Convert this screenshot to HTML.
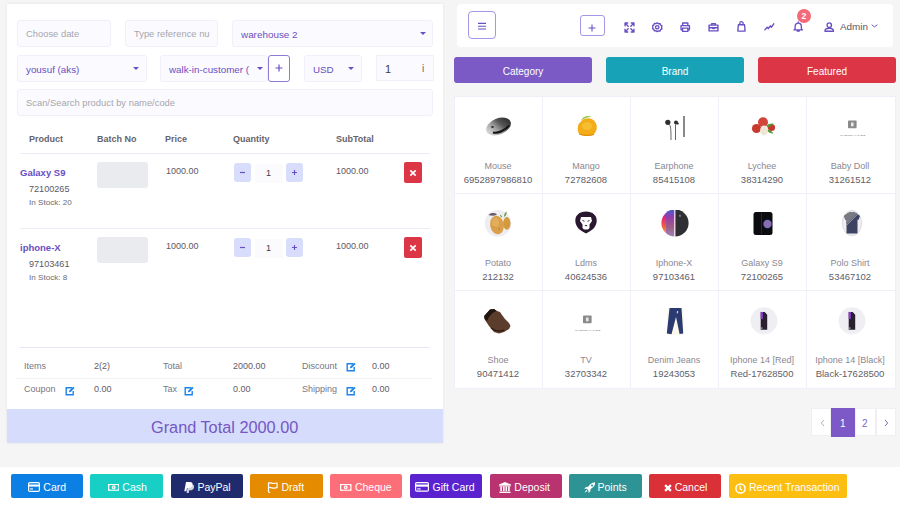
<!DOCTYPE html>
<html><head><meta charset="utf-8"><style>
*{box-sizing:border-box;margin:0;padding:0}
html,body{width:900px;height:506px;overflow:hidden;background:#f5f5f6;font-family:"Liberation Sans",sans-serif;color:#47404f}
.a{position:absolute;white-space:nowrap}
.t{position:absolute;white-space:nowrap;line-height:1}
.panel{position:absolute;left:7px;top:4px;width:436px;height:439px;background:#fff;box-shadow:0 0 3px rgba(0,0,0,.07)}
.inp{position:absolute;background:#fbfbff;border:1px solid #f0f0fa;border-radius:3px}
.ph{color:#a6a5ad}
.pv{color:#6a4ec2}
.caret{position:absolute;width:0;height:0;border-left:3px solid transparent;border-right:3px solid transparent;border-top:3.5px solid #6a4ec2}
.th{font-size:9px;font-weight:bold;color:#65636c}
.hl{position:absolute;height:1px;background:#ececf4}
.qb{position:absolute;width:17px;height:19px;background:#d7ddfb;border-radius:3px}
.del{position:absolute;width:18px;height:21px;background:#dc3545;border-radius:2px}
.bi{position:absolute;width:51px;height:26px;background:#e9ebef;border-radius:3px}
.tl{font-size:9px;color:#787681}
.gt{position:absolute;left:7px;top:409px;width:436px;height:34px;background:#d6dcfb}
.hdr{position:absolute;left:457px;top:4px;width:436px;height:43px;background:#fff;border-radius:4px}
.cb{position:absolute;top:57px;height:26px;width:138px;border-radius:3px}
.grid{position:absolute;left:454px;top:96px;width:442px;height:293px;background:#fff;border:1px solid #efeff8}
.vl{position:absolute;width:1px;background:#efeff8}
.btn{position:absolute;top:474px;height:24px;width:72px;border-radius:2px}
.bt{font-size:10.5px;color:#fff}
.cn{font-size:9px;color:#8a8893}
.cc{font-size:9.5px;color:#605e69}
.pg{position:absolute;top:408px;height:28px;background:#fff;border:1px solid #f0f0f4}
</style></head><body>
<div class="panel"></div>
<div class="inp" style="left:17px;top:20px;width:94px;height:27px"></div>
<div class="t ph" style="left:26px;top:29px;font-size:9.4px">Choose date</div>
<div class="inp" style="left:125px;top:20px;width:93px;height:27px"></div>
<div class="t ph" style="left:134px;top:29px;font-size:9.4px">Type reference nu</div>
<div class="inp" style="left:232px;top:20px;width:201px;height:27px"></div>
<div class="t pv" style="left:241px;top:30px;font-size:9.9px">warehouse 2</div>
<div class="caret" style="left:420px;top:32px"></div>
<div class="inp" style="left:17px;top:55px;width:130px;height:27px"></div>
<div class="t pv" style="left:26px;top:65px;font-size:9.8px">yousuf (aks)</div>
<div class="caret" style="left:133px;top:67px"></div>
<div class="inp" style="left:160px;top:55px;width:108px;height:27px;overflow:hidden"></div>
<div class="t pv" style="left:169px;top:65px;font-size:9.8px;width:84px;overflow:hidden">walk-in-customer (</div>
<div class="caret" style="left:257px;top:67px"></div>
<div class="a" style="left:268px;top:55px;width:22px;height:27px;border:1px solid #8f7ad6;border-radius:3px;background:#fff"></div>
<svg class="a" style="left:275px;top:64px" width="8" height="8"><path d="M4 .5v7M.5 4h7" stroke="#6a4fc4" stroke-width="1.2"/></svg>
<div class="inp" style="left:304px;top:55px;width:58px;height:27px"></div>
<div class="t pv" style="left:313px;top:65px;font-size:9.8px">USD</div>
<div class="caret" style="left:348px;top:67px"></div>
<div class="inp" style="left:376px;top:55px;width:58px;height:26px;border-radius:1px"></div>
<div class="t " style="left:385px;top:64px;font-size:11px;color:#3c3a44">1</div>
<div class="t " style="left:422px;top:64px;font-size:10px;color:#666">i</div>
<div class="inp" style="left:17px;top:89px;width:416px;height:27px"></div>
<div class="t ph" style="left:26px;top:98px;font-size:9.4px">Scan/Search product by name/code</div>
<div class="t th" style="left:29px;top:135px;">Product</div>
<div class="t th" style="left:97px;top:135px;">Batch No</div>
<div class="t th" style="left:165px;top:135px;">Price</div>
<div class="t th" style="left:233px;top:135px;">Quantity</div>
<div class="t th" style="left:336px;top:135px;">SubTotal</div>
<div class="hl" style="left:20px;top:153px;width:410px"></div>
<div class="t " style="left:20px;top:168px;font-size:9.5px;font-weight:bold;color:#6a4ec2">Galaxy S9</div>
<div class="t " style="left:29px;top:185px;font-size:9.1px;color:#5b5866">72100265</div>
<div class="t " style="left:29px;top:199px;font-size:8.1px;color:#6d6a74">In Stock: 20</div>
<div class="bi" style="left:97px;top:162px"></div>
<div class="t " style="left:166px;top:167px;font-size:9px;color:#5b5866">1000.00</div>
<div class="qb" style="left:234px;top:163px"></div>
<svg class="a" style="left:238px;top:168px" width="9" height="9"><path d="M2 4.5h5" stroke="#6a4fc4" stroke-width="1.2"/></svg>
<div class="a" style="left:255px;top:164px;width:28px;height:19px;background:#fbfbfe;border-radius:2px"></div>
<div class="t " style="left:266px;top:169px;font-size:9px;color:#3c3a44">1</div>
<div class="qb" style="left:286px;top:163px"></div>
<svg class="a" style="left:290px;top:168px" width="9" height="9"><path d="M4.5 2v5M2 4.5h5" stroke="#6a4fc4" stroke-width="1.1"/></svg>
<div class="t " style="left:336px;top:167px;font-size:9px;color:#5b5866">1000.00</div>
<div class="del" style="left:404px;top:162px"></div>
<svg class="a" style="left:409px;top:169px" width="8" height="8"><path d="M1.3 1.3l5.4 5.4M6.7 1.3l-5.4 5.4" stroke="#fff" stroke-width="1.7"/></svg>
<div class="hl" style="left:20px;top:228px;width:410px"></div>
<div class="t " style="left:20px;top:243px;font-size:9.5px;font-weight:bold;color:#6a4ec2">iphone-X</div>
<div class="t " style="left:29px;top:260px;font-size:9.1px;color:#5b5866">97103461</div>
<div class="t " style="left:29px;top:274px;font-size:8.1px;color:#6d6a74">In Stock: 8</div>
<div class="bi" style="left:97px;top:237px"></div>
<div class="t " style="left:166px;top:242px;font-size:9px;color:#5b5866">1000.00</div>
<div class="qb" style="left:234px;top:238px"></div>
<svg class="a" style="left:238px;top:243px" width="9" height="9"><path d="M2 4.5h5" stroke="#6a4fc4" stroke-width="1.2"/></svg>
<div class="a" style="left:255px;top:239px;width:28px;height:19px;background:#fbfbfe;border-radius:2px"></div>
<div class="t " style="left:266px;top:244px;font-size:9px;color:#3c3a44">1</div>
<div class="qb" style="left:286px;top:238px"></div>
<svg class="a" style="left:290px;top:243px" width="9" height="9"><path d="M4.5 2v5M2 4.5h5" stroke="#6a4fc4" stroke-width="1.1"/></svg>
<div class="t " style="left:336px;top:242px;font-size:9px;color:#5b5866">1000.00</div>
<div class="del" style="left:404px;top:237px"></div>
<svg class="a" style="left:409px;top:244px" width="8" height="8"><path d="M1.3 1.3l5.4 5.4M6.7 1.3l-5.4 5.4" stroke="#fff" stroke-width="1.7"/></svg>
<div class="hl" style="left:20px;top:347px;width:410px;background:#e6e6f4"></div>
<div class="hl" style="left:16px;top:378px;width:416px;background:#f3f3f7"></div>
<div class="t tl" style="left:24px;top:362px;">Items</div>
<div class="t tl" style="left:94px;top:362px;color:#5f5c68">2(2)</div>
<div class="t tl" style="left:163px;top:362px;">Total</div>
<div class="t tl" style="left:233px;top:362px;color:#5f5c68">2000.00</div>
<div class="t tl" style="left:302px;top:362px;">Discount</div>
<div class="t tl" style="left:372px;top:362px;color:#5f5c68">0.00</div>
<svg class="a" style="left:346px;top:362px" width="10" height="10" viewBox="0 0 10 10"><path d="M7.2 1.8H1.2v7h7V5" fill="none" stroke="#1c84e8" stroke-width="1.4"/><path d="M4 6.2l.3-1.6L8.3.7l1.3 1.3-4 4z" fill="#1c84e8"/></svg>
<div class="t tl" style="left:24px;top:385px;">Coupon</div>
<div class="t tl" style="left:94px;top:385px;color:#5f5c68">0.00</div>
<svg class="a" style="left:65px;top:386px" width="10" height="10" viewBox="0 0 10 10"><path d="M7.2 1.8H1.2v7h7V5" fill="none" stroke="#1c84e8" stroke-width="1.4"/><path d="M4 6.2l.3-1.6L8.3.7l1.3 1.3-4 4z" fill="#1c84e8"/></svg>
<div class="t tl" style="left:163px;top:385px;">Tax</div>
<div class="t tl" style="left:233px;top:385px;color:#5f5c68">0.00</div>
<svg class="a" style="left:184px;top:386px" width="10" height="10" viewBox="0 0 10 10"><path d="M7.2 1.8H1.2v7h7V5" fill="none" stroke="#1c84e8" stroke-width="1.4"/><path d="M4 6.2l.3-1.6L8.3.7l1.3 1.3-4 4z" fill="#1c84e8"/></svg>
<div class="t tl" style="left:302px;top:385px;">Shipping</div>
<div class="t tl" style="left:372px;top:385px;color:#5f5c68">0.00</div>
<svg class="a" style="left:346px;top:386px" width="10" height="10" viewBox="0 0 10 10"><path d="M7.2 1.8H1.2v7h7V5" fill="none" stroke="#1c84e8" stroke-width="1.4"/><path d="M4 6.2l.3-1.6L8.3.7l1.3 1.3-4 4z" fill="#1c84e8"/></svg>
<div class="gt"></div>
<div class="t " style="left:151px;top:419px;font-size:16.3px;color:#7556c4">Grand Total 2000.00</div>
<div class="hdr"></div>
<div class="a" style="left:468px;top:11px;width:28px;height:28px;border:1px solid #a597e6;border-radius:4px"></div>
<svg class="a" style="left:477px;top:22px" width="10" height="8"><path d="M1 1.4h8M1 4.2h8M1 7h8" stroke="#6a4fc4" stroke-width="1.1"/></svg>
<div class="a" style="left:580px;top:15px;width:25px;height:21px;border:1px solid #a597e6;border-radius:3px"></div>
<svg class="a" style="left:588px;top:24px" width="8" height="8"><path d="M4 .5v7M.5 4h7" stroke="#6a4fc4" stroke-width="1.1"/></svg>
<svg class="a" style="left:623.5px;top:21.7px" width="11" height="11" viewBox="0 0 10.5 10.5" fill="none" stroke="#6a4fc4" stroke-width="1.3" stroke-linecap="round" stroke-linejoin="round"><path d="M1 3.6V1h2.6M1 1l3 3M6.9 1h2.6v2.6M9.5 1L6.5 4M9.5 6.9v2.6H6.9M9.5 9.5L6.5 6.5M3.6 9.5H1V6.9M1 9.5l3-3"/></svg>
<svg class="a" style="left:652px;top:22px" width="11" height="11" viewBox="0 0 10.5 10.5" fill="none" stroke="#6a4fc4" stroke-width="1.3" stroke-linecap="round" stroke-linejoin="round"><circle cx="5" cy="5" r="1.6"/><path d="M5 .8l1.2.9 1.5-.2.5 1.4 1.3.8-.4 1.4.4 1.4-1.3.8-.5 1.4-1.5-.2L5 9.2l-1.2-.9-1.5.2-.5-1.4L.5 6.3.9 4.9.5 3.5l1.3-.8.5-1.4 1.5.2z"/></svg>
<svg class="a" style="left:680px;top:22px" width="11" height="11" viewBox="0 0 10.5 10.5" fill="none" stroke="#6a4fc4" stroke-width="1.3" stroke-linecap="round" stroke-linejoin="round"><path d="M2.5 3.5V1h5v2.5M2.5 7.5H1V3.5h8v4H7.5M2.5 5.8h5V9h-5z"/></svg>
<svg class="a" style="left:708px;top:21.5px" width="11" height="11" viewBox="0 0 10.5 10.5" fill="none" stroke="#6a4fc4" stroke-width="1.3" stroke-linecap="round" stroke-linejoin="round"><path d="M1 3h8.5v5.5H1zM3.5 3V1.5h3.5V3M1 5.5h8.5M4.5 5.5v.8h1.5v-.8"/></svg>
<svg class="a" style="left:736.6px;top:21px" width="11" height="11" viewBox="0 0 10.5 10.5" fill="none" stroke="#6a4fc4" stroke-width="1.3" stroke-linecap="round" stroke-linejoin="round"><path d="M1.3 3.6h5.9l.5 6H.8zM2.7 3.6V2.2a1.55 1.55 0 0 1 3.1 0v1.4"/></svg>
<svg class="a" style="left:764.2px;top:22px" width="11" height="11" viewBox="0 0 10.5 10.5" fill="none" stroke="#6a4fc4" stroke-width="1.3" stroke-linecap="round" stroke-linejoin="round"><path d="M.8 7.5l2.3-2.5 1 1.4 1.9-2.8 1 1.4 2.3-3.3"/></svg>
<svg class="a" style="left:793px;top:21px" width="11" height="11" viewBox="0 0 10.5 10.5" fill="none" stroke="#6a4fc4" stroke-width="1.3" stroke-linecap="round" stroke-linejoin="round"><path d="M2 7.5V5a3 3 0 0 1 6 0v2.5l1 1H1zM4 9.5h2M5 1v1"/></svg>
<svg class="a" style="left:823.5px;top:22px" width="11" height="11" viewBox="0 0 10.5 10.5" fill="none" stroke="#6a4fc4" stroke-width="1.3" stroke-linecap="round" stroke-linejoin="round"><circle cx="5" cy="3" r="2.1"/><path d="M.9 8.8c0-1.8 1.8-2.8 4.1-2.8s4.1 1 4.1 2.8z"/></svg>
<div class="a" style="left:797px;top:9px;width:14px;height:14px;border-radius:50%;background:#f46a78"></div>
<div class="t " style="left:801.5px;top:12px;font-size:8.5px;color:#fff;font-weight:bold">2</div>
<div class="t " style="left:840px;top:21.5px;font-size:9.9px;color:#5a5864">Admin</div>
<svg class="a" style="left:871px;top:24px" width="7" height="4"><path d="M.7.7L3.5 3 6.3.7" fill="none" stroke="#6a4fc4" stroke-width="1"/></svg>
<div class="cb" style="left:454px;background:#7b5ac5"></div>
<div class="t" style="left:454px;top:67px;width:138px;text-align:center;font-size:10px;color:#fff">Category</div>
<div class="cb" style="left:606px;background:#17a2b8"></div>
<div class="t" style="left:606px;top:67px;width:138px;text-align:center;font-size:10px;color:#fff">Brand</div>
<div class="cb" style="left:758px;background:#dc3545"></div>
<div class="t" style="left:758px;top:67px;width:138px;text-align:center;font-size:10px;color:#fff">Featured</div>
<div class="grid"></div>
<div class="vl" style="left:542px;top:96px;height:293px"></div>
<div class="vl" style="left:630px;top:96px;height:293px"></div>
<div class="vl" style="left:718px;top:96px;height:293px"></div>
<div class="vl" style="left:806px;top:96px;height:293px"></div>
<div class="hl" style="left:454px;top:193px;width:442px;background:#efeff8"></div>
<div class="hl" style="left:454px;top:290px;width:442px;background:#efeff8"></div>
<svg class="a" style="left:483px;top:113px" width="32" height="30" viewBox="0 0 32 30"><defs><linearGradient id="g0m" x1="0" x2="1" y1=".3" y2="0"><stop offset="0" stop-color="#d0d0d0"/><stop offset=".3" stop-color="#9a9a9a"/><stop offset=".55" stop-color="#555"/><stop offset="1" stop-color="#222"/></linearGradient></defs>
<ellipse cx="15.5" cy="13.5" rx="13" ry="8" transform="rotate(-22 15.5 13.5)" fill="url(#g0m)"/><path d="M10 19.5c5 1 12-2 16-7" stroke="#111" stroke-width="2" fill="none"/><ellipse cx="9.5" cy="14" rx="1.4" ry="1" fill="#333"/></svg>
<div class="t cn" style="left:454px;top:162px;width:88px;text-align:center">Mouse</div>
<div class="t cc" style="left:454px;top:174.5px;width:88px;text-align:center">6952897986810</div>
<svg class="a" style="left:572px;top:113px" width="32" height="30" viewBox="0 0 32 30"><path d="M9 7.5c2-4 7-5.5 10.5-3.5-4-.3-7 1.3-10.5 3.5z" fill="#8cc63f"/><path d="M9.5 8c4-4 11-3.5 14 1.5s.5 12.5-5 13.2-12.5.3-12.7-5.5 1-6.7 3.7-9.2z" fill="#f3ad18"/><ellipse cx="15" cy="13" rx="5" ry="4" fill="#f7c238" opacity=".8"/><path d="M7 21c4 1.5 10 1.8 15 .5" stroke="#d98a0a" stroke-width="1" fill="none"/></svg>
<div class="t cn" style="left:542px;top:162px;width:88px;text-align:center">Mango</div>
<div class="t cc" style="left:542px;top:174.5px;width:88px;text-align:center">72782608</div>
<svg class="a" style="left:655px;top:110px" width="32" height="30" viewBox="0 0 32 30"><circle cx="12.8" cy="12.3" r="2.6" fill="#2e2e2e"/><circle cx="21" cy="12.6" r="2" fill="#2e2e2e"/><circle cx="22.8" cy="13.6" r="1.1" fill="#3a3a3a"/><path d="M14 14c1.8 2 2 5 2 16M20.5 14.5v15.5" stroke="#555" stroke-width=".9" fill="none"/><path d="M29 6v21" stroke="#3a3a3a" stroke-width="1.2"/></svg>
<div class="t cn" style="left:630px;top:162px;width:88px;text-align:center">Earphone</div>
<div class="t cc" style="left:630px;top:174.5px;width:88px;text-align:center">85415108</div>
<svg class="a" style="left:747px;top:113px" width="32" height="30" viewBox="0 0 32 30"><circle cx="9.5" cy="15.5" r="4.6" fill="#c8392e"/><circle cx="16" cy="9.3" r="5" fill="#d2453a"/><circle cx="24.5" cy="14.5" r="3.6" fill="#c6382c"/><path d="M19.5 13c2-2.5 5.5-2.8 7-2-2 1.2-4.5 3.5-6 3.5zM19.5 16.5c2 0 5.5 1.5 7 4-3.5 0-5.8-1.5-7-4z" fill="#4f9a35"/><ellipse cx="17" cy="17.5" rx="3.9" ry="5" fill="#efe6d6"/></svg>
<div class="t cn" style="left:718px;top:162px;width:88px;text-align:center">Lychee</div>
<div class="t cc" style="left:718px;top:174.5px;width:88px;text-align:center">38314290</div>
<svg class="a" style="left:837px;top:113px" width="32" height="30" viewBox="0 0 32 30"><rect x="11" y="7.5" width="8.6" height="7.7" rx=".8" fill="#8a8a8a"/><rect x="14" y="9.5" width="2.6" height="3.8" fill="#e8e8e8"/><text x="15.5" y="23" font-size="2.3" text-anchor="middle" fill="#6a6a6a" font-family="Liberation Sans">IMAGE NOT AVAILABLE</text></svg>
<div class="t cn" style="left:806px;top:162px;width:88px;text-align:center">Baby Doll</div>
<div class="t cc" style="left:806px;top:174.5px;width:88px;text-align:center">31261512</div>
<svg class="a" style="left:483px;top:210px" width="32" height="30" viewBox="0 0 32 30"><circle cx="15" cy="13.3" r="13.3" fill="#eeeef2"/><path d="M5.5 5c2.5-2.5 6-2.5 8.5-.5-2.5 1.5-5.5 1.5-8.5.5z" fill="#6d5a6e"/><path d="M21 7c0-2.5 1-4.5 2.5-5.5.5 2-.5 4.5-2.5 5.5zM19.5 7.5c-.5-1.5-1.5-2.5-2.5-3 0 1.5.8 2.5 2.5 3z" fill="#5c9a3a"/><ellipse cx="23.8" cy="13.4" rx="3.7" ry="6.3" fill="#d49a40"/><ellipse cx="14" cy="15" rx="6.9" ry="9.3" transform="rotate(-10 14 15)" fill="#dba04c"/><ellipse cx="12.5" cy="12.5" rx="3.5" ry="4.5" fill="#e8b868" opacity=".6"/><circle cx="16" cy="19" r=".8" fill="#b0702c"/><circle cx="11" cy="17" r=".6" fill="#b0702c"/></svg>
<div class="t cn" style="left:454px;top:259px;width:88px;text-align:center">Potato</div>
<div class="t cc" style="left:454px;top:271.5px;width:88px;text-align:center">212132</div>
<svg class="a" style="left:571px;top:210px" width="32" height="30" viewBox="0 0 32 30"><path d="M15 1.5c3 0 4.5 1 6.5 1.5 2 1.5 3.5 3 4 5.5.5 3 0 5.5-1.5 8-1.5 2.5-3.5 3.8-5.5 5L15 23.5l-3.5-2c-2-1.2-4-2.5-5.5-5C4.5 14 4 11.5 4.5 8.5 5 6 6.5 4.5 8.5 3c2-.5 3.5-1.5 6.5-1.5z" fill="#2a1730"/><path d="M10 7h10l1 4-2.5 3.5v3.5l-1.5 1.5h-4L11.5 18v-3.5L9 11z" fill="#fff"/><path d="M13.5 15h3l-1.5 1.5z" fill="#2a1730"/><path d="M11.5 10.5l2 .8M18.5 10.5l-2 .8" stroke="#2a1730" stroke-width=".9"/></svg>
<div class="t cn" style="left:542px;top:259px;width:88px;text-align:center">Ldms</div>
<div class="t cc" style="left:542px;top:271.5px;width:88px;text-align:center">40624536</div>
<svg class="a" style="left:660px;top:210px" width="32" height="30" viewBox="0 0 32 30"><defs><linearGradient id="g7x" x1="0" y1="0" x2="0" y2="1"><stop offset="0" stop-color="#3a5fd9"/><stop offset=".3" stop-color="#e0247a"/><stop offset=".65" stop-color="#f0653a"/><stop offset="1" stop-color="#f6b2a0"/></linearGradient><clipPath id="c7x"><circle cx="15" cy="13" r="13.6"/></clipPath></defs>
<g clip-path="url(#c7x)"><rect x="0" y="-1" width="14.2" height="28" fill="url(#g7x)"/><rect x="15.4" y="-1" width="15" height="28" fill="#2f2f33"/><rect x="6" y="-1" width="8.2" height="28" fill="#4a58d8" opacity=".5"/></g><path d="M19 5l1.5-.5.5 2-1.5.5z" fill="#888"/></svg>
<div class="t cn" style="left:630px;top:259px;width:88px;text-align:center">Iphone-X</div>
<div class="t cc" style="left:630px;top:271.5px;width:88px;text-align:center">97103461</div>
<svg class="a" style="left:748px;top:211px" width="32" height="30" viewBox="0 0 32 30"><rect x="5.5" y="1" width="19" height="23" rx="2.5" fill="#0c0c10"/><path d="M13.5 2v21" stroke="#333" stroke-width=".7"/><circle cx="19.5" cy="13" r="4.2" fill="#7a6fc0"/><circle cx="19.5" cy="13" r="2" fill="#9a6aa0"/></svg>
<div class="t cn" style="left:718px;top:259px;width:88px;text-align:center">Galaxy S9</div>
<div class="t cc" style="left:718px;top:271.5px;width:88px;text-align:center">72100265</div>
<svg class="a" style="left:837px;top:210px" width="32" height="30" viewBox="0 0 32 30"><ellipse cx="15" cy="13" rx="9.6" ry="12.6" fill="#efeff1" stroke="#dcdce0" stroke-width="1"/><path d="M11 3L13.5 2h3L19 3l4 3-1.5 4-1-.5V23.5h-11V9.5l-1 .5L7 6z" fill="#3d4362"/><path d="M11 3L13.5 2h3L19 3l1.2.7L9.5 14.5v-5l-1 .5L7 6z" fill="#7a7a82"/><path d="M20.5 4.3L9.5 15.3" stroke="#a8a8b2" stroke-width=".9"/></svg>
<div class="t cn" style="left:806px;top:259px;width:88px;text-align:center">Polo Shirt</div>
<div class="t cc" style="left:806px;top:271.5px;width:88px;text-align:center">53467102</div>
<svg class="a" style="left:482px;top:306px" width="32" height="30" viewBox="0 0 32 30"><path d="M4 8L8 3.5 12 3l3 2 3 1 2 3 3 4 4 4 1.5 3-1.5 3-5 3-5 1.5-5-1.5-5-6-4-6-.5-4z" fill="#5c3c2b"/><path d="M4 8L8 3.5 12 3l2.5 2-4 2-3.5 4-2 4-2.5-2-.5-3z" fill="#221410"/><path d="M9 22c4 3 9 4 13 2" stroke="#2a1a12" stroke-width="1.2" fill="none"/></svg>
<div class="t cn" style="left:454px;top:356px;width:88px;text-align:center">Shoe</div>
<div class="t cc" style="left:454px;top:368.5px;width:88px;text-align:center">90471412</div>
<svg class="a" style="left:572px;top:307.5px" width="32" height="30" viewBox="0 0 32 30"><rect x="11" y="7.5" width="8.6" height="7.7" rx=".8" fill="#8a8a8a"/><rect x="14" y="9.5" width="2.6" height="3.8" fill="#e8e8e8"/><text x="15.5" y="23" font-size="2.3" text-anchor="middle" fill="#6a6a6a" font-family="Liberation Sans">IMAGE NOT AVAILABLE</text></svg>
<div class="t cn" style="left:542px;top:356px;width:88px;text-align:center">TV</div>
<div class="t cc" style="left:542px;top:368.5px;width:88px;text-align:center">32703342</div>
<svg class="a" style="left:658px;top:307px" width="32" height="30" viewBox="0 0 32 30"><rect x="9" y="1" width="17" height="27" fill="#fcf9e8"/><path d="M11.5 1h12l1.7 25.5-3.6.5L18 10l-4.5 17.2-4.7-.7z" fill="#2b3a70"/><path d="M19 4l1.2.3-.4 2.2-1.1-.3z" fill="#ddd"/></svg>
<div class="t cn" style="left:630px;top:356px;width:88px;text-align:center">Denim Jeans</div>
<div class="t cc" style="left:630px;top:368.5px;width:88px;text-align:center">19243053</div>
<svg class="a" style="left:749px;top:307px" width="32" height="30" viewBox="0 0 32 30"><circle cx="15" cy="13.8" r="13.5" fill="#efeff3"/><path d="M11.7 4.9h4l2.5 2.8v15h-6.5z" fill="#2a2030"/><path d="M11.7 4.9h2.2v7h-2.2z" fill="#8a3ad0"/><rect x="12.2" y="20.5" width="1.2" height="1.2" fill="#ddd"/></svg>
<div class="t cn" style="left:718px;top:356px;width:88px;text-align:center">Iphone 14 [Red]</div>
<div class="t cc" style="left:718px;top:368.5px;width:88px;text-align:center">Red-17628500</div>
<svg class="a" style="left:837px;top:307px" width="32" height="30" viewBox="0 0 32 30"><circle cx="15" cy="13.8" r="13.5" fill="#efeff3"/><path d="M11.7 4.9h4l2.5 2.8v15h-6.5z" fill="#2a2030"/><path d="M11.7 4.9h2.2v7h-2.2z" fill="#8a3ad0"/><rect x="12.2" y="20.5" width="1.2" height="1.2" fill="#ddd"/></svg>
<div class="t cn" style="left:806px;top:356px;width:88px;text-align:center">Iphone 14 [Black]</div>
<div class="t cc" style="left:806px;top:368.5px;width:88px;text-align:center">Black-17628500</div>
<div class="pg" style="left:811px;width:20px"></div>
<svg class="a" style="left:819.5px;top:419px" width="5" height="8"><path d="M4 1L1.3 4 4 7" fill="none" stroke="#b0aeb8" stroke-width="1"/></svg>
<div class="a" style="left:831px;top:408px;width:24px;height:29px;background:#7c59c7"></div>
<div class="t " style="left:840px;top:418.5px;font-size:10px;color:#fff">1</div>
<div class="pg" style="left:855px;width:21px"></div>
<div class="t " style="left:862px;top:418.5px;font-size:10px;color:#7a68c8">2</div>
<div class="pg" style="left:876px;width:20px"></div>
<svg class="a" style="left:883.5px;top:419px" width="5" height="8"><path d="M1 1l2.7 3L1 7" fill="none" stroke="#7a68c8" stroke-width="1"/></svg>
<div class="a" style="left:0;top:467px;width:900px;height:39px;background:#fff"></div>
<div class="btn" style="left:11px;width:72px;background:#0b7fe4"></div>
<svg class="a" style="left:28px;top:482.2px" width="12" height="10" viewBox="0 0 12 10"><rect x=".6" y=".6" width="10.8" height="8.8" rx="1.2" fill="none" stroke="#fff" stroke-width="1.2"/><rect x=".6" y="2.5" width="10.8" height="2.1" fill="#fff"/><rect x="2" y="6.4" width="3" height="1.1" fill="#fff"/></svg>
<div class="t bt" style="left:43.3px;top:482px;">Card</div>
<div class="btn" style="left:90px;width:73px;background:#17cfc4"></div>
<svg class="a" style="left:107.6px;top:483.8px" width="11.5" height="7" viewBox="0 0 11.5 7"><rect x="0" y="0" width="11.5" height="6.8" fill="#fff"/><rect x="1.2" y="1.1" width="9.1" height="4.6" rx="1.3" fill="#17cfc4"/><ellipse cx="5.75" cy="3.4" rx="1.9" ry="2.1" fill="#fff"/><rect x="5.35" y="2.3" width=".8" height="2.2" fill="#17cfc4"/></svg>
<div class="t bt" style="left:122.3px;top:482px;">Cash</div>
<div class="btn" style="left:171px;width:72px;background:#1f2b6c"></div>
<svg class="a" style="left:184.4px;top:482.3px" width="10" height="11" viewBox="0 0 10 11"><path d="M2.6 11L4.1 2.6h3.5c1.9 0 2.8 1.1 2.4 2.8-.4 1.9-1.7 2.8-3.7 2.8H5.2L4.7 11z" fill="#fff" opacity=".8"/><path d="M.3 9.3L2 0h3.9c2 0 3 1.2 2.6 3-.4 2-1.9 3-4 3H3l-.6 3.3z" fill="#fff"/></svg>
<div class="t bt" style="left:197.4px;top:482px;">PayPal</div>
<div class="btn" style="left:250px;width:73px;background:#e58b00"></div>
<svg class="a" style="left:267px;top:482.4px" width="11" height="11" viewBox="0 0 11 11"><path d="M1.5 .8v8.5c0 .8.5 1.2 1.2 1.2M1.5 1.3c1.8-1.2 3.5.3 5 .2s2.5-.8 3.6-.4v4.6c-1.2-.2-2 .5-3.6.5s-3.2-1.5-5-.4" fill="none" stroke="#fff" stroke-width="1.2" stroke-linejoin="round" stroke-linecap="round"/></svg>
<div class="t bt" style="left:281.4px;top:482px;">Draft</div>
<div class="btn" style="left:330px;width:72px;background:#fd6f78"></div>
<svg class="a" style="left:340.1px;top:483.6px" width="11.5" height="7" viewBox="0 0 11.5 7"><rect x="0" y="0" width="11.5" height="6.8" fill="#fff"/><rect x="1.2" y="1.1" width="9.1" height="4.6" rx="1.3" fill="#fd6f78"/><ellipse cx="5.75" cy="3.4" rx="1.9" ry="2.1" fill="#fff"/><rect x="5.35" y="2.3" width=".8" height="2.2" fill="#fd6f78"/></svg>
<div class="t bt" style="left:354.9px;top:482px;">Cheque</div>
<div class="btn" style="left:410px;width:72px;background:#5b22d0"></div>
<svg class="a" style="left:415.3px;top:482.4px" width="14" height="10" viewBox="0 0 14 10"><rect x=".6" y=".6" width="12.8" height="8.6" rx="1.2" fill="none" stroke="#fff" stroke-width="1.2"/><rect x=".6" y="2.5" width="12.8" height="2.2" fill="#fff"/><rect x="2.2" y="6.4" width="3.5" height="1.1" fill="#fff"/></svg>
<div class="t bt" style="left:432.6px;top:482px;">Gift Card</div>
<div class="btn" style="left:490px;width:72px;background:#b8336f"></div>
<svg class="a" style="left:498.8px;top:482.3px" width="12" height="11" viewBox="0 0 12 11"><path d="M6 0L12 2.6V3.6H0V2.6z" fill="#fff"/><rect x=".5" y="9.6" width="11" height="1.4" fill="#fff"/><rect x=".3" y="3.6" width="11.4" height=".9" fill="#fff"/><rect x="1.3" y="4.5" width="1.6" height="4.6" fill="#fff"/><rect x="4" y="4.5" width="1.6" height="4.6" fill="#fff"/><rect x="6.5" y="4.5" width="1.6" height="4.6" fill="#fff"/><rect x="9.1" y="4.5" width="1.6" height="4.6" fill="#fff"/></svg>
<div class="t bt" style="left:514.3px;top:482px;">Deposit</div>
<div class="btn" style="left:569px;width:73px;background:#2e9395"></div>
<svg class="a" style="left:583.6px;top:482.4px" width="11.5" height="11" viewBox="0 0 11.5 11"><path d="M11.3.2C7.8.2 5.8 2.2 4.3 4.7l-2.3.3L.2 6.8h2.7l1.6 1.6v2.7l1.8-1.8.3-2.3C9.1 5.5 11.3 3.5 11.3.2z" fill="#fff"/><circle cx="8" cy="3.5" r="1.05" fill="#2e9395"/><path d="M2.4 7.8L.5 10.8l3-1.9z" fill="#fff"/></svg>
<div class="t bt" style="left:597.5px;top:482px;">Points</div>
<div class="btn" style="left:649px;width:72px;background:#da3038"></div>
<svg class="a" style="left:663.6px;top:484px" width="8" height="8" viewBox="0 0 8 8"><path d="M1.1 1.1l5.8 5.8M6.9 1.1L1.1 6.9" stroke="#fff" stroke-width="2.3"/></svg>
<div class="t bt" style="left:674.7px;top:482px;">Cancel</div>
<div class="btn" style="left:729px;width:118px;background:#fdbe12"></div>
<svg class="a" style="left:734.6px;top:483px" width="11" height="11" viewBox="0 0 11 11"><circle cx="5.5" cy="5.5" r="4.6" fill="none" stroke="#fff" stroke-width="1.5"/><path d="M5.1 2.8v3l2 1.5" fill="none" stroke="#fff" stroke-width="1.3"/></svg>
<div class="t bt" style="left:749px;top:482px;">Recent Transaction</div>
</body></html>
